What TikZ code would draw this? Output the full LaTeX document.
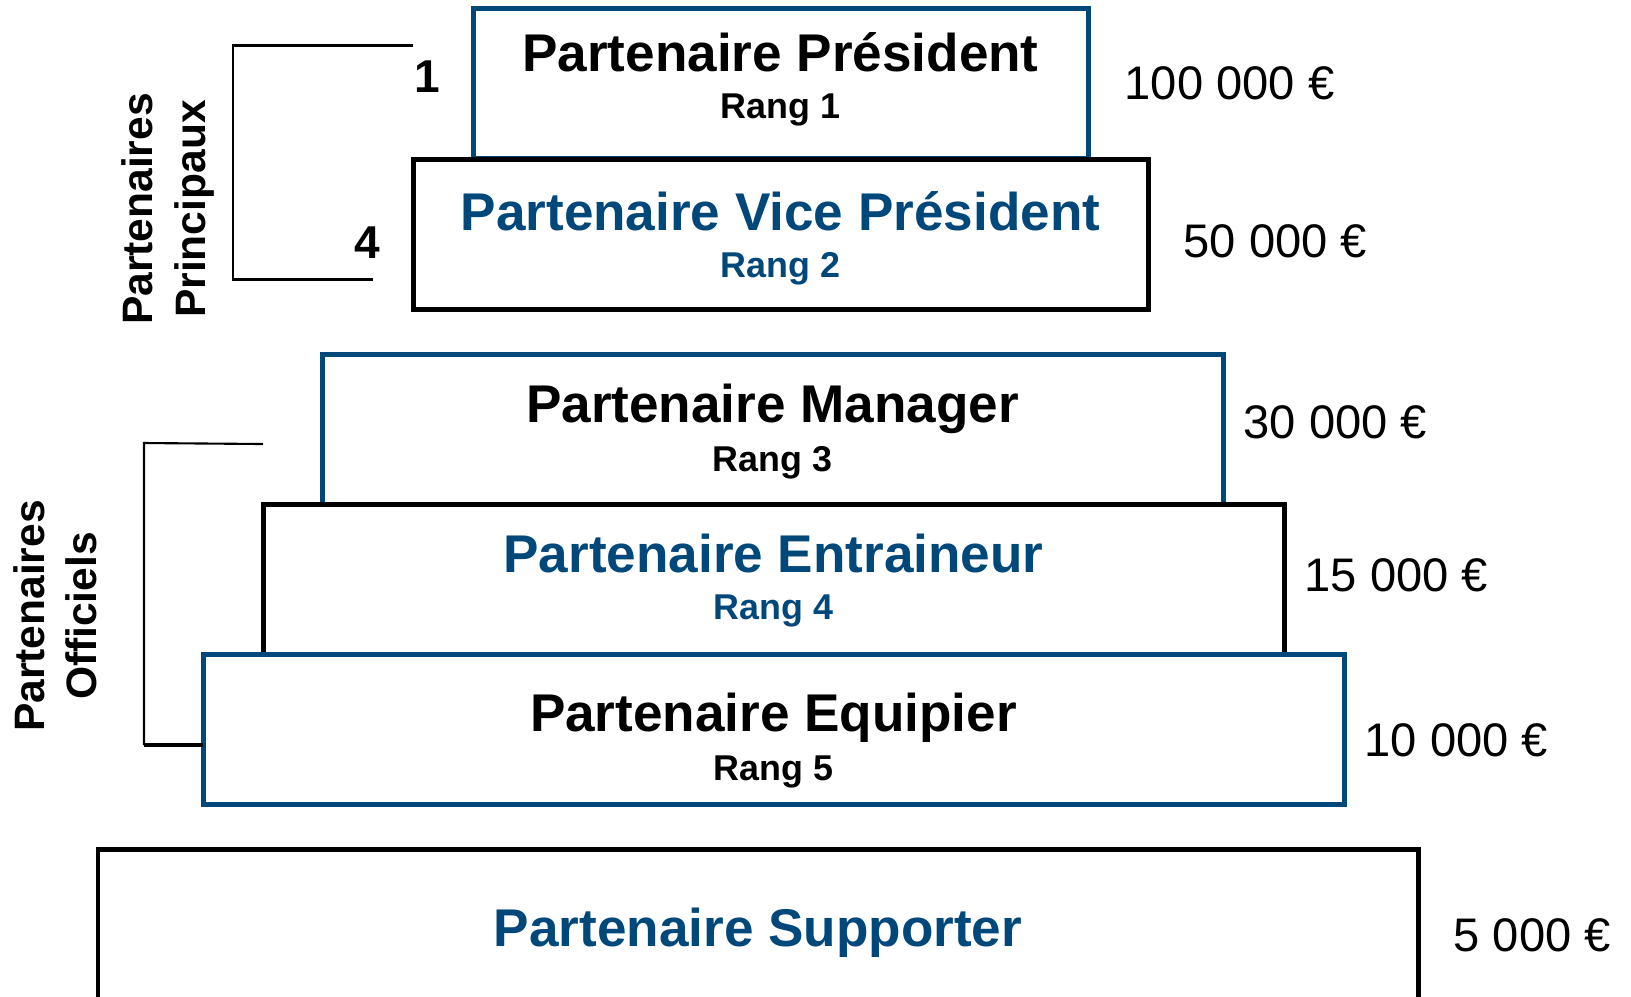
\documentclass[tikz,border=0pt]{standalone}
\usepackage{fontspec}
\setmainfont{Liberation Sans}
\usetikzlibrary{calc}

\definecolor{palierblue}{RGB}{0,71,122}

\tikzset{
  bluebox/.style={draw=palierblue,line width=1.42pt},
  blackbox/.style={draw=black,line width=1.42pt},
  titre/.style={font=\fontsize{15.1}{18}\selectfont\bfseries,inner sep=0pt},
  rang/.style={font=\fontsize{10.2}{12}\selectfont\bfseries,inner sep=0pt},
  prix/.style={font=\fontsize{13.4}{16}\selectfont,anchor=west,inner sep=0pt},
  groupe/.style={font=\fontsize{12.1}{14.8}\selectfont\bfseries,align=center,rotate=90,inner sep=0pt},
  crochet/.style={line width=#1},
}

\begin{document}
\begin{tikzpicture}[x=0.01cm,y=-0.01cm]
        \useasboundingbox (0,0) rectangle (1631,996);
        % paliers
        \coordinate (p1a) at (473,8);   \coordinate (p1b) at (1088,158);
        \coordinate (p2a) at (413,159); \coordinate (p2b) at (1148,309);
        \coordinate (p3a) at (322,354); \coordinate (p3b) at (1223,504);
        \coordinate (p4a) at (263,504); \coordinate (p4b) at (1284,654);
        \coordinate (p5a) at (203,654); \coordinate (p5b) at (1344,804);
        \coordinate (p6a) at (98,849);  \coordinate (p6b) at (1418,1010);
        \draw[bluebox] (p1a) rectangle (p1b);
        \draw[blackbox] (p2a) rectangle (p2b);
        \draw[bluebox] (p3a) rectangle (p3b);
        \draw[blackbox] (p4a) rectangle (p4b);
        \draw[bluebox] (p5a) rectangle (p5b);
        \draw[blackbox] (p6a) rectangle (p6b);

        \node[titre] (t1) at ($(p1a)!0.5!(p1b)+(0,-31)$) {Partenaire Président};
        \node[rang] (r1) at ($(p1a)!0.5!(p1b)+(0,27)$) {Rang 1};
        \node[titre,text=palierblue] (t2) at ($(p2a)!0.5!(p2b)+(0,-23)$) {Partenaire Vice Président};
        \node[rang,text=palierblue] (r2) at ($(p2a)!0.5!(p2b)+(0,35)$) {Rang 2};
        \node[titre] (t3) at ($(p3a)!0.5!(p3b)+(0,-20)$) {Partenaire Manager};
        \node[rang] (r3) at ($(p3a)!0.5!(p3b)+(0,34)$) {Rang 3};
        \node[titre,text=palierblue] (t4) at ($(p4a)!0.5!(p4b)+(0,-26)$) {Partenaire Entraineur};
        \node[rang,text=palierblue] (r4) at ($(p4a)!0.5!(p4b)+(0,32)$) {Rang 4};
        \node[titre] (t5) at ($(p5a)!0.5!(p5b)+(0,-11)$) {Partenaire Equipier};
        \node[rang] (r5) at ($(p5a)!0.5!(p5b)+(0,43)$) {Rang 5};
        \node[titre,text=palierblue] (t6) at (758,933) {Partenaire Supporter};

        % montants
        \node[prix] (m1) at (1124,83) {100 000 €};
        \node[prix] (m2) at (1183,241) {50 000 €};
        \node[prix] (m3) at (1243,422) {30 000 €};
        \node[prix] (m4) at (1304,575) {15 000 €};
        \node[prix] (m5) at (1364,740) {10 000 €};
        \node[prix] (m6) at (1453,935) {5 000 €};

        % groupes
        \node[groupe] (gp) at (168,209) {Partenaires\\Principaux};
        \node[groupe] (go) at (55,616) {Partenaires\\Officiels};
        \node[titre,font=\fontsize{13.1}{15}\selectfont\bfseries] (n1) at (427,77) {1};
        \node[titre,font=\fontsize{13.1}{15}\selectfont\bfseries] (n4) at (367,243) {4};

        \coordinate (ca) at (413,45);
        \coordinate (cb) at (233,45);
        \coordinate (cc) at (233,279);
        \coordinate (cd) at (373,279);
        \draw[crochet=0.85pt] (ca) -- (cb) -- (cc) -- (cd);
        \coordinate (ce) at (263,444);
        \coordinate (cf) at (144,443);
        \coordinate (cg) at (144,745);
        \draw[crochet=0.6pt] (ce) -- (cf) -- (cg);
        \draw[crochet=1pt] (cg) -- (p5a|-cg);
      \end{tikzpicture}
\end{document}
